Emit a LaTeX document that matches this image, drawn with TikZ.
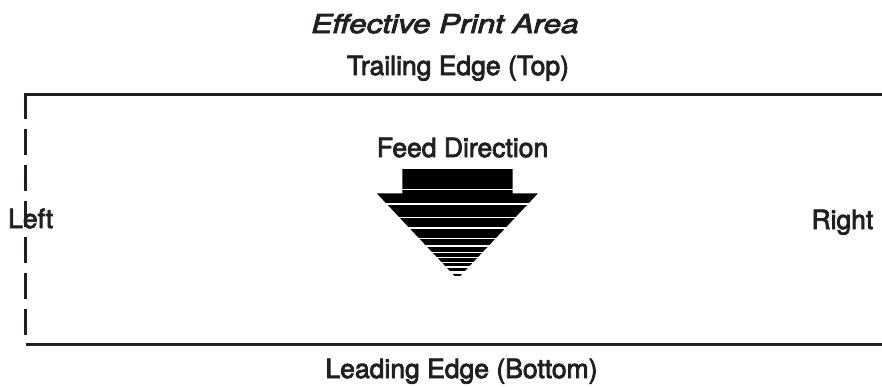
\documentclass[tikz,border=0pt]{standalone}
\usepackage{fontspec}
\newfontfamily\medfont{TeX Gyre Heros}[FakeBold=3]
\usepackage{tikz}
\usetikzlibrary{positioning,calc}
\definecolor{ink}{HTML}{231F20}
\tikzset{
  % edge labels and the feed label share one look
  lbl/.style   = {inner sep=0pt, text=ink, font=\medfont\fontsize{26.5}{28}\selectfont},
  ttl/.style   = {inner sep=0pt, text=ink, font=\medfont\itshape\fontsize{26}{28}\selectfont,
                  xscale=1.21, transform shape},
  edge/.style  = {draw=ink, line width=2.8pt},
  open/.style  = {draw=ink, line width=2.6pt, dash pattern=on 26pt off 10pt},
}
\begin{document}
\begin{tikzpicture}[x=1pt,y=-1pt]
\useasboundingbox (0,0) rectangle (882,386);
% labels
\node[ttl, anchor=base] (title) at (445,33) {Effective  Print  Area};
\node[lbl, anchor=base] (trail) at (458,75) {Trailing Edge (Top)};
\node[lbl, anchor=base] (feed) at (462.5,157) {Feed Direction};
\node[lbl, anchor=base] (lead) at (461.5,378) {Leading Edge (Bottom)};
% frame
\coordinate (tl) at (25.7,94.8);
\coordinate (tr) at (882,94.8);
\coordinate (bl) at (25.7,344.3);
\coordinate (br) at (882,344.3);
\coordinate (lend) at (25.7,335);
\draw[open] (25.7,93.4) -- (lend);
\draw[edge] (tl) -- (tr);
\draw[edge] (bl) -- (br);
\node[lbl, anchor=base west] (left) at (8,228) {Left};
\node[lbl, anchor=base east] (right) at (873.5,229) {Right};
% feed arrow, striped
\begin{scope}
\clip (402.3,169) rectangle (512.7,193.4)
      (376.7,193.3) -- (538,193.3) -- (457.4,279) -- cycle;
\foreach \t/\b in {169/188.7, 190/203.3, 204.7/216.7, 218.3/227.3, 228.7/237.5,
                   239/245, 246.7/251.7, 253/256.7, 258.3/261.7, 263.3/266,
                   268/270.5, 274.3/276.3}
  \fill[black] (370,\t) rectangle (545,\b);
\end{scope}
\end{tikzpicture}
\end{document}
